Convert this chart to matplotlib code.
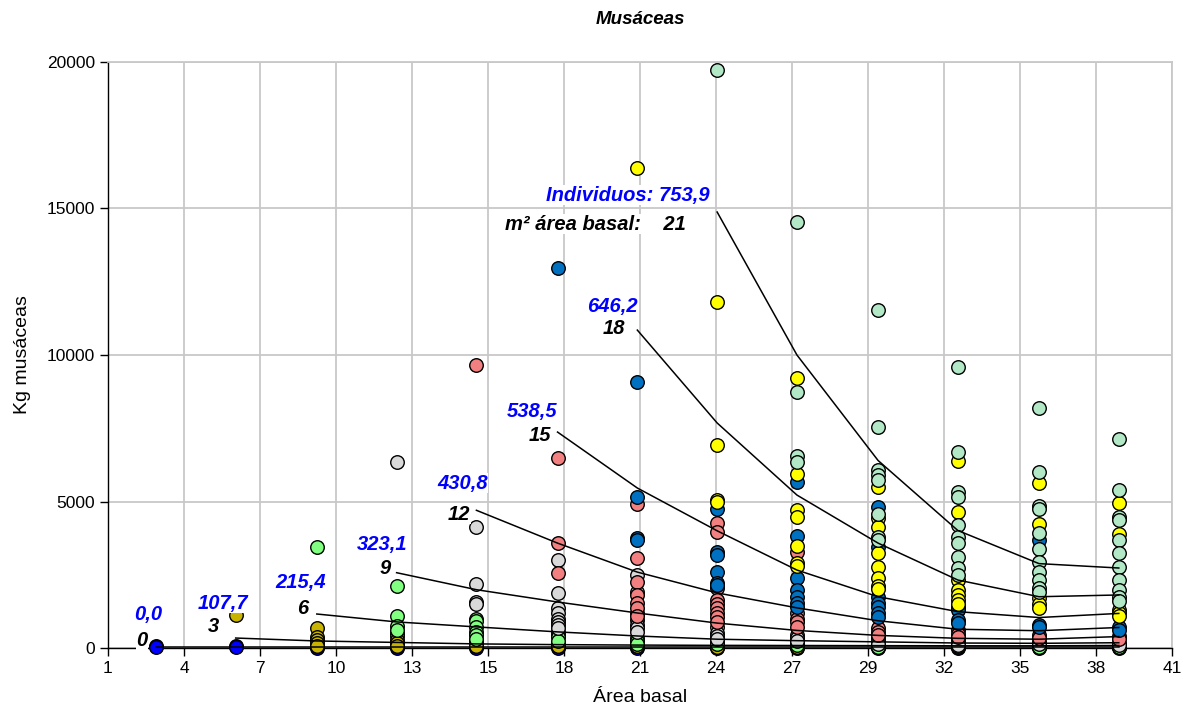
import matplotlib
matplotlib.use("Agg")
import matplotlib.pyplot as plt
import numpy as np

plt.rcParams['font.family'] = ['Liberation Sans', 'DejaVu Sans']

# ---------------- data ----------------
col_x = [2.8, 5.8, 8.85, 11.85, 14.85, 17.9, 20.9, 23.9, 26.9, 29.95, 32.95, 36.0, 39.0]
x_tick_labels = ['1', '4', '7', '10', '13', '15', '18', '21', '24', '27', '29', '32', '35', '38', '41']
y_ticks = [0, 5000, 10000, 15000, 20000]

series_colors = ['#0000FF', '#C8B400', '#80FF80', '#D9D9D9', '#F28080', '#0070C0', '#FFFF00', '#B3E8C6']

s_blue = [[70, 40], [70, 40], [30, 10], [30, 10], [30, 10], [30, 10], [30, 10],
          [30, 10], [30, 10], [30, 10], [30, 10], [30, 10], [30, 10]]
s_olive = [[], [1130], [680, 380, 270, 170, 80], [510, 400, 270, 170, 80], [270, 170, 80],
           [130, 60], [170, 60], [80, 40], [60, 30], [60, 30], [60, 30], [60, 30], [60, 30]]
s_green = [[], [], [3450], [2120, 1090, 750, 600], [990, 920, 720, 550, 440, 300],
           [550, 450, 380, 250], [340, 250, 150], [200, 120], [170, 90], [80, 40], [60], [50], [50]]
s_gray = [[], [], [], [6350], [4130, 2180, 1570, 1500],
          [3000, 1870, 1370, 1190, 1000, 890, 800, 680], [2490, 1900, 1190, 960, 800, 680, 550],
          [700, 510, 400, 300], [440, 350, 250], [340, 250, 150], [270, 180, 100], [200, 120], [170, 100]]
s_salmon = [[], [], [], [], [9660], [6480, 3580, 2560],
            [4910, 3070, 2250, 1810, 1540, 1370, 1100],
            [4270, 3960, 2050, 1640, 1500, 1370, 1200, 1060, 900],
            [3280, 1190, 1000, 890, 700], [680, 550, 450], [610, 480, 380], [440, 350], [410, 300]]
s_steel = [[], [], [], [], [], [12970], [9080, 5150, 3750, 3700],
           [4740, 3280, 3170, 2590, 2220, 2150],
           [5670, 3820, 2390, 1980, 1740, 1540, 1400],
           [4810, 3450, 1740, 1540, 1400, 1190, 1050],
           [1400, 1300, 960, 850], [3690, 790, 700], [720, 600]]
s_yellow = [[], [], [], [], [], [], [16380], [11810, 6930, 5050, 4980],
            [9220, 5940, 4710, 4470, 3480, 2900, 2800],
            [5500, 4440, 4130, 3240, 2760, 2390, 2120, 2000],
            [6380, 4640, 2320, 1980, 1800, 1640, 1500],
            [5630, 4230, 1710, 1500, 1370],
            [4950, 3890, 1300, 1190, 1100]]
s_mint = [[], [], [], [], [], [], [], [19730], [14540, 8740, 6550, 6350],
          [11540, 7540, 6080, 5900, 5730, 4570, 3790, 3700],
          [9590, 6690, 5320, 5150, 4200, 3790, 3580, 3110, 2730, 2500],
          [8190, 6010, 4850, 4740, 3920, 3380, 2940, 2590, 2320, 2050, 1900],
          [7130, 5390, 4470, 4370, 3690, 3240, 2760, 2320, 1980, 1740, 1600]]
all_series = [s_blue, s_olive, s_green, s_gray, s_salmon, s_steel, s_yellow, s_mint]

# iso-lines: start column index, values from that column to the last
curve_start = [0, 1, 2, 3, 4, 5, 6, 7]
curve_area = ['0', '3', '6', '9', '12', '15', '18', '21']
curve_indiv = ['0,0', '107,7', '215,4', '323,1', '430,8', '538,5', '646,2', '753,9']
curve_0 = [20, 20, 20, 20, 20, 20, 20, 20, 20, 20, 20, 20, 20]
curve_3 = [340, 240, 190, 140, 115, 100, 90, 85, 80, 75, 75, 85]
curve_6 = [1160, 890, 720, 550, 410, 300, 250, 210, 170, 160, 180]
curve_9 = [2570, 1990, 1570, 1195, 850, 600, 430, 330, 300, 390]
curve_12 = [4700, 3580, 2590, 1880, 1370, 930, 640, 590, 700]
curve_15 = [7370, 5460, 4000, 2660, 1750, 1240, 1040, 1180]
curve_18 = [10850, 7680, 5220, 3580, 2320, 1750, 1810]
curve_21 = [14880, 10000, 6400, 4010, 2880, 2730]
curves = [curve_0, curve_3, curve_6, curve_9, curve_12, curve_15, curve_18, curve_21]

# ---------------- figure ----------------
W, H = 1183, 714
fig = plt.figure(figsize=(W / 100, H / 100), dpi=100)
ax = fig.add_axes([108 / W, 1 - 648 / H, (1172 - 108) / W, (648 - 62) / H])

ax.set_xlim(1, 41)
ax.set_ylim(0, 20000)
ax.set_xticks(np.linspace(1, 41, 15))
ax.set_xticklabels(x_tick_labels)
ax.set_yticks(y_ticks)
ax.set_yticklabels([str(v) for v in y_ticks])
ax.tick_params(axis='both', direction='out', length=6, width=1, labelsize=12.5, colors='black')
ax.grid(True, color='#C8C8C8', lw=1.3)
ax.set_axisbelow(True)
for s in ['top', 'right']:
    ax.spines[s].set_color('#C8C8C8')
    ax.spines[s].set_linewidth(1.3)
for s in ['left', 'bottom']:
    ax.spines[s].set_color('black')
    ax.spines[s].set_linewidth(1.0)

# scatter points
for color, series in zip(series_colors, all_series):
    xs, ys = [], []
    for ci, vals in enumerate(series):
        for v in vals:
            xs.append(col_x[ci])
            ys.append(v)
    ax.scatter(xs, ys, s=95, c=color, edgecolors='black', linewidths=1.0, zorder=3, clip_on=False)

# iso-lines
for k, vals in enumerate(curves):
    xs = col_x[curve_start[k]:curve_start[k] + len(vals)]
    ax.plot(xs, vals, color='black', lw=1.1, zorder=4, clip_on=False)

# labels (offsets in pixels from each line's first point)
black_off = [(-8, 7), (-17, 12), (-8, 6), (-6, 4), (-6, -4), (-6, -3), (-12, 2)]
blue_off = [(-8, 33), (-13, 35), (-16, 32), (-14, 28), (-14, 27), (-25, 21), (-25, 24)]
lab_font = dict(fontsize=14.5, fontweight='bold', fontstyle='italic')
bbox = dict(facecolor='white', edgecolor='none', pad=0.5)
for k in range(7):
    x0 = col_x[curve_start[k]]
    y0 = curves[k][0]
    ax.annotate(curve_area[k], (x0, y0), xytext=black_off[k], textcoords='offset pixels',
                ha='right', va='center', color='black', zorder=5, bbox=bbox, **lab_font)
    ax.annotate(curve_indiv[k], (x0, y0), xytext=blue_off[k], textcoords='offset pixels',
                ha='center', va='center', color='#0000FF', zorder=5, bbox=bbox, **lab_font)
x0 = col_x[curve_start[7]]
y0 = curves[7][0]
ax.annotate('Individuos: ' + curve_indiv[7], (x0, y0), xytext=(-8, 17), textcoords='offset pixels',
            ha='right', va='center', color='#0000FF', zorder=5, bbox=bbox, **lab_font)
ax.annotate('m² área basal:    ' + curve_area[7], (x0, y0), xytext=(-31, -12), textcoords='offset pixels',
            ha='right', va='center', color='black', zorder=5, bbox=bbox, **lab_font)

ax.set_title('Musáceas', fontsize=13.5, fontweight='bold', fontstyle='italic', pad=27)
ax.set_xlabel('Área basal', fontsize=14, labelpad=9)
ax.set_ylabel('Kg musáceas', fontsize=14, labelpad=11)

fig.savefig('out.png', dpi=100)
